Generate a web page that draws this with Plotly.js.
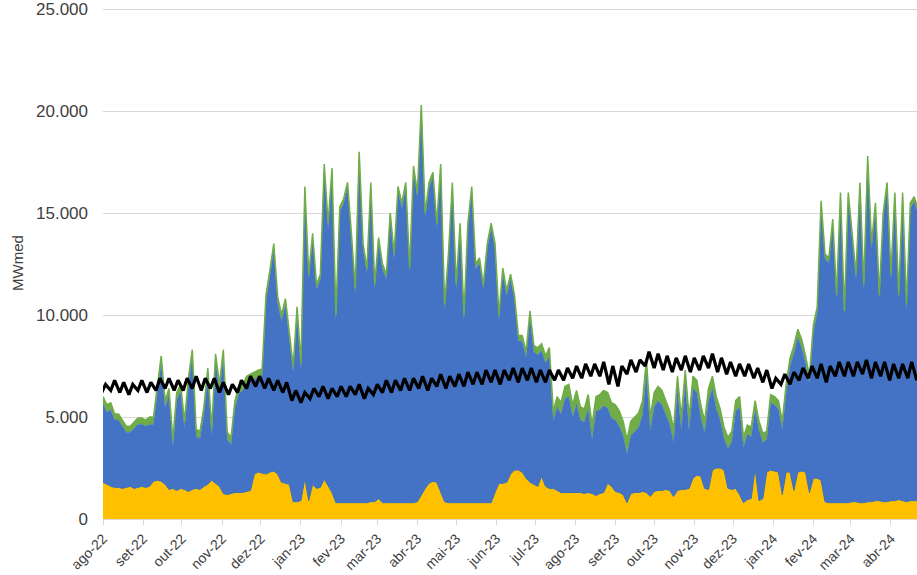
<!DOCTYPE html>
<html>
<head>
<meta charset="utf-8">
<script src="https://cdn.plot.ly/plotly-3.0.1.min.js"></script>
<style>html,body{margin:0;padding:0;background:#fff;}#chart{width:917px;height:575px;}</style>
</head>
<body>
<div id="chart"></div>
<script>
// ---- DATA ----
const areaStart = '2022-08-01';   // first sample, one sample every 3 days
const areaStepDays = 3;

const yellowSeries = [1800,1700,1600,1550,1550,1500,1550,1600,1500,1550,
1600,1550,1600,1850,1900,1850,1700,1450,1500,1400,
1500,1450,1350,1450,1500,1450,1600,1700,1900,1750,
1600,1250,1200,1250,1300,1300,1300,1350,1400,2200,
2300,2250,2200,2300,2350,2200,1800,1750,1700,850,
850,900,2000,900,1700,1500,1550,1950,1600,1300,
800,800,800,800,800,800,800,800,800,850,
850,1000,800,800,800,800,800,800,800,800,
800,850,1200,1500,1750,1850,1800,1300,850,800,
800,800,800,800,800,800,800,800,800,800,
800,1300,1750,1750,1800,2200,2400,2400,2300,2000,
1800,1700,1600,2100,1600,1500,1500,1400,1300,1300,
1300,1300,1300,1300,1250,1300,1250,1150,1250,1300,
1750,1600,1350,1300,1200,800,1250,1300,1300,1350,
1300,1100,1350,1400,1400,1450,1400,1100,1400,1450,
1450,1500,2000,2150,2100,1500,1450,2400,2500,2500,
2400,1500,1450,1500,1200,800,950,1000,2500,900,
1000,2300,2400,2350,2300,1200,2300,2300,1400,2300,
2350,2300,1300,2000,2000,1900,850,800,800,800,
800,800,800,850,850,800,800,850,850,900,
900,850,850,900,900,950,900,850,900,900,
900];

const blueSeries = [3850,3550,3750,3300,3300,3050,2700,2650,2950,3100,
3050,3000,3050,2800,4250,5800,3750,4600,2050,4450,
4750,3000,5200,6500,2550,2500,3550,5350,2150,6000,
4650,6700,2700,2400,4150,4850,5000,5350,5400,4650,
4650,4750,8450,9550,10850,8400,7900,8750,7000,6350,
9250,6400,14050,10850,12050,9750,10200,15200,12650,15650,
8950,14250,14650,15450,12950,10250,16950,12450,11250,15400,
10400,12550,11450,10950,13950,11950,15250,14450,15450,11250,
16250,14900,18850,13250,14500,14900,12450,15850,9400,11950,
15450,10450,13450,8950,13450,15250,11450,11750,10450,12450,
13450,11950,8000,10300,9150,9550,8350,6350,6400,5900,
8100,6500,6450,6150,6050,6500,3300,4100,3850,4600,
4700,3700,4350,3550,3500,4100,2650,4150,4100,4250,
3700,3350,3500,3250,2900,2400,2850,3000,3200,3750,
5800,3200,4150,4400,4200,3650,3250,2650,4950,2900,
5200,2850,4400,4050,2900,2700,4350,4000,2900,2350,
1550,1950,2350,3800,4300,2700,3200,3050,2850,3450,
2750,1600,3300,3250,3100,3200,3900,5200,6700,6600,
6050,5350,5350,7150,8100,13400,11900,11750,13650,9950,
14950,9150,14950,12900,10900,15450,10450,16700,12400,14350,
9850,13900,15400,10850,14850,9800,14850,9400,14350,14650,
14050];

const greenSeries = [350,350,350,300,300,300,300,300,300,300,
300,300,350,350,350,350,350,350,350,350,
350,350,350,350,350,350,350,350,350,350,
350,350,350,350,350,350,300,300,300,350,
350,350,350,350,300,300,300,300,300,300,
300,300,250,250,250,250,250,250,250,250,
250,250,250,250,250,250,250,250,250,250,
250,250,250,250,250,250,250,250,250,250,
250,250,250,250,250,250,250,250,250,250,
250,250,250,250,250,250,250,250,250,250,
250,250,250,250,250,250,250,250,300,300,
300,300,350,350,350,400,500,500,550,600,
600,600,650,650,650,700,700,700,750,750,
750,750,750,750,700,700,700,700,700,700,
700,700,700,700,700,700,650,650,650,650,
650,650,600,600,600,600,600,600,600,550,
550,550,500,500,500,500,450,450,450,450,
450,400,400,400,400,400,400,400,400,400,
400,350,350,350,300,300,250,250,250,250,
250,250,250,250,250,250,250,250,250,250,
250,250,250,250,250,250,250,250,250,250,
250];

// black line: weekly samples, alternating Sunday (from 2022-07-31) and Wednesday
const blackStart = '2022-07-31';
const blackSeries = [6200,6600,6300,6800,6200,6700,6100,6600,6300,6800,
6200,6700,6300,6900,6400,6900,6300,6800,6300,6900,
6400,7000,6300,6900,6400,6900,6200,6700,6100,6600,
6200,6800,6400,7000,6500,7000,6400,6900,6300,6800,
6200,6700,5800,6300,5700,6200,5900,6400,6000,6500,
5900,6400,6000,6500,6000,6500,6100,6600,5900,6400,
6100,6600,6200,6800,6200,6800,6300,6900,6300,6900,
6400,7000,6300,6900,6500,7100,6400,7000,6500,7100,
6500,7200,6600,7200,6600,7300,6700,7300,6600,7300,
6800,7400,6700,7400,6800,7400,6700,7300,6700,7300,
6800,7300,6800,7400,6900,7500,6900,7600,7000,7600,
7000,7700,6600,7500,6500,7500,7100,7800,7200,7800,
7500,8200,7400,8100,7300,8000,7200,7900,7300,8000,
7200,7900,7300,8000,7400,8100,7200,7900,7100,7700,
7000,7600,7000,7600,6900,7400,6700,7300,6400,6900,
6600,7100,6600,7200,6800,7400,6900,7500,6900,7600,
6700,7500,7000,7700,7000,7700,7000,7700,7100,7800,
6900,7700,7000,7700,6800,7600,6900,7600,6900,7700,
6800];

const monthTicks = ['2022-08-01','2022-09-01','2022-10-01','2022-11-01','2022-12-01','2023-01-01','2023-02-01',
'2023-03-01','2023-04-01','2023-05-01','2023-06-01','2023-07-01','2023-08-01','2023-09-01','2023-10-01',
'2023-11-01','2023-12-01','2024-01-01','2024-02-01','2024-03-01','2024-04-01'];
const monthLabels = ['ago-22','set-22','out-22','nov-22','dez-22','jan-23','fev-23','mar-23','abr-23','mai-23',
'jun-23','jul-23','ago-23','set-23','out-23','nov-23','dez-23','jan-24','fev-24','mar-24','abr-24'];
const yTickVals = [0,5000,10000,15000,20000,25000];
const yTickLabels = ['0','5.000','10.000','15.000','20.000','25.000'];

// ---- BUILD ----
function addDays(iso, n){
  const d = new Date(iso + 'T00:00:00Z');
  d.setUTCDate(d.getUTCDate() + n);
  return d.toISOString().slice(0,10);
}
const areaDates = yellowSeries.map((_, i) => addDays(areaStart, i*areaStepDays));
const blackDates = blackSeries.map((_, k) => addDays(blackStart, Math.floor(k/2)*7 + (k%2)*3));

const font = 'Liberation Sans, Arial, sans-serif';
const traces = [
  {x: areaDates, y: yellowSeries, type:'scatter', mode:'lines', stackgroup:'s',
   fillcolor:'#FFC000', line:{color:'#3d6fb3', width:1}, hoverinfo:'skip'},
  {x: areaDates, y: blueSeries, type:'scatter', mode:'lines', stackgroup:'s',
   fillcolor:'#4472C4', line:{color:'#4472C4', width:0.5}, hoverinfo:'skip'},
  {x: areaDates, y: greenSeries, type:'scatter', mode:'lines', stackgroup:'s',
   fillcolor:'#70AD47', line:{color:'#70AD47', width:1.5}, hoverinfo:'skip'},
  {x: blackDates, y: blackSeries, type:'scatter', mode:'lines',
   line:{color:'#000000', width:3.2}, hoverinfo:'skip'}
];

const layout = {
  width: 917, height: 575,
  margin: {l:103, r:0, t:7, b:56},
  paper_bgcolor:'#ffffff', plot_bgcolor:'#ffffff',
  showlegend:false,
  font:{family: font, color:'#404040'},
  xaxis:{type:'date', range:['2022-08-01','2024-04-21 03:00'],
    tickmode:'array', tickvals: monthTicks, ticktext: monthLabels, tickangle:-45,
    tickfont:{family:font, size:14, color:'#404040'},
    showgrid:false, zeroline:false, showline:true, linecolor:'#d9d9d9', linewidth:1,
    ticks:'outside', ticklen:5, tickcolor:'#d9d9d9', fixedrange:true, automargin:false,
    ticklabeloverflow:'allow'},
  yaxis:{range:[0,25100], tickmode:'array', tickvals: yTickVals, ticktext: yTickLabels,
    tickfont:{family:font, size:17, color:'#404040'},
    showgrid:true, gridcolor:'#d9d9d9', gridwidth:1, zeroline:false, showline:false,
    ticks:'', ticklabelstandoff:14, automargin:false, fixedrange:true,
    ticklabeloverflow:'allow',
    title:{text:'MWmed', font:{family:font, size:15, color:'#404040'}, standoff:8}}
};

Plotly.newPlot('chart', traces, layout, {displayModeBar:false, staticPlot:true});
</script>
</body>
</html>
